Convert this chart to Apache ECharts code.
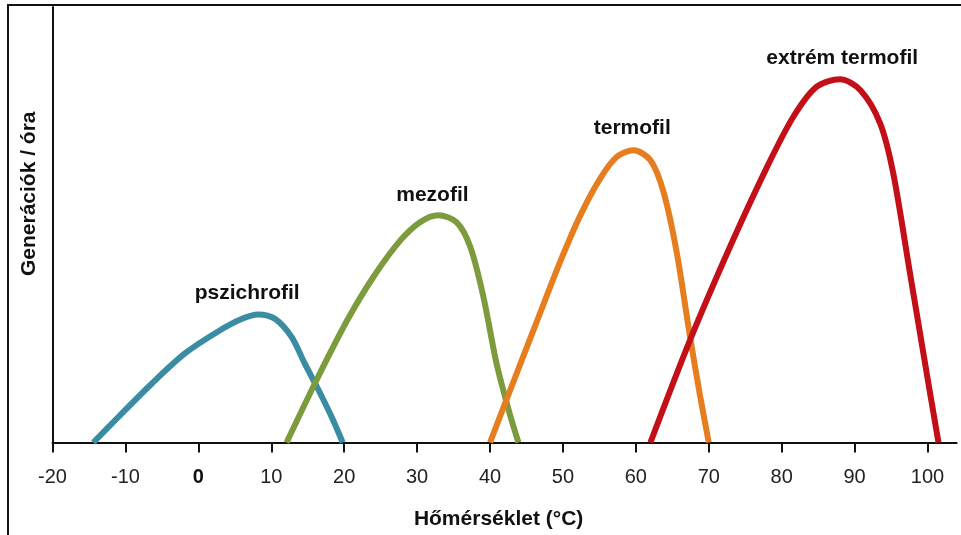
<!DOCTYPE html>
<html>
<head>
<meta charset="utf-8">
<script src="https://cdn.jsdelivr.net/npm/echarts@6/dist/echarts.min.js"></script>
<style>
  html, body { margin: 0; padding: 0; background: #fff; }
  #main { width: 961px; height: 535px; }
</style>
</head>
<body>
<div id="main"></div>
<script>
// tick positions on the temperature axis
var tickValues = [-20, -10, 0, 10, 20, 30, 40, 50, 60, 70, 80, 90, 100];

var names = ['pszichrofil', 'mezofil', 'termofil', 'extrém termofil'];
var colors = ['#3a8ca3', '#7b9b3c', '#e67e1f', '#c20f18'];

// temperature (°C) / generations per hour (arbitrary units)
var psychroX = [-14.4, -11.0, -6.4, -1.8, 2.7, 6.0, 8.2, 10.5, 12.8, 14.6, 16.5, 18.3, 19.8];
var psychroY = [0, 5.8, 13.5, 20.5, 25.5, 28.4, 29.4, 28.4, 24.2, 18.1, 12.0, 5.8, 0];

var mesoX = [12.1, 16.2, 20.4, 24.0, 27.7, 30.4, 32.9, 35.4, 37.3, 39.1, 40.9, 42.7, 43.9];
var mesoY = [0, 14.3, 28.0, 38.0, 46.4, 50.6, 52.2, 50.6, 44.9, 33.4, 18.1, 6.6, 0];

var thermoX = [40.0, 43.2, 46.4, 49.6, 52.4, 55.1, 57.4, 59.7, 62.0, 63.8, 65.6, 67.4, 68.8, 70.0];
var thermoY = [0, 13.9, 27.7, 41.4, 52.2, 60.6, 65.6, 67.1, 64.8, 57.5, 43.7, 24.6, 10.8, 0];

var hyperX = [62.0, 67.4, 72.9, 78.0, 81.6, 84.8, 88.0, 90.8, 93.5, 95.3, 97.6, 99.9, 101.5];
var hyperY = [0, 23.4, 44.9, 63.3, 74.8, 81.7, 83.4, 80.9, 73.3, 61.8, 38.8, 15.8, 0];

// where each curve's name sits
var labelX = [6.7, 32.1, 59.5, 88.3];
var labelY = [34.3, 56.8, 72.2, 88.3];

var curvesX = [psychroX, mesoX, thermoX, hyperX];
var curvesY = [psychroY, mesoY, thermoY, hyperY];

var font = 'Arial, "Liberation Sans", sans-serif';

var chart = echarts.init(document.getElementById('main'));

var series = [];
for (let i = 0; i < names.length; i++) {
  let pts = [];
  for (let j = 0; j < curvesX[i].length; j++) {
    pts.push([curvesX[i][j], curvesY[i][j]]);
  }
  series.push({
    name: names[i],
    type: 'line',
    smooth: 0.3,
    showSymbol: false,
    data: pts,
    lineStyle: { color: colors[i], width: 6 },
    itemStyle: { color: colors[i] },
    markPoint: {
      symbol: 'circle',
      symbolSize: 1,
      itemStyle: { color: 'rgba(0,0,0,0)' },
      label: {
        show: true,
        position: 'inside',
        formatter: names[i],
        color: '#111',
        fontFamily: font,
        fontWeight: 'bold',
        fontSize: 21
      },
      data: [{ coord: [labelX[i], labelY[i]] }]
    }
  });
}

var option = {
  backgroundColor: '#fff',
  animation: false,
  grid: {
    left: 52.5,
    right: 4.3,
    top: 7,
    bottom: 92.5
  },
  graphic: [{
    type: 'polyline',
    shape: { points: [[8, 535], [8, 5], [961, 5]] },
    style: { stroke: '#111', lineWidth: 2, fill: null }
  }],
  xAxis: {
    type: 'value',
    min: -20,
    max: 104,
    name: 'Hőmérséklet (°C)',
    nameLocation: 'middle',
    nameGap: 66,
    nameTextStyle: {
      color: '#111',
      fontFamily: font,
      fontWeight: 'bold',
      fontSize: 21,
      padding: [0, 12, 0, 0]
    },
    axisLine: { lineStyle: { color: '#111', width: 2 } },
    axisTick: {
      customValues: tickValues,
      length: 10,
      lineStyle: { color: '#111', width: 2 }
    },
    axisLabel: {
      customValues: tickValues,
      margin: 25,
      color: '#222',
      fontFamily: font,
      fontSize: 20,
      formatter: function (v) {
        return v === 0 ? '{b|0}' : String(v);
      },
      rich: {
        b: { fontWeight: 'bold', fontFamily: font, fontSize: 20, color: '#111' }
      }
    },
    splitLine: { show: false }
  },
  yAxis: {
    type: 'value',
    min: 0,
    max: 100,
    name: 'Generációk / óra',
    nameLocation: 'middle',
    nameGap: 13,
    nameTextStyle: {
      color: '#111',
      fontFamily: font,
      fontWeight: 'bold',
      fontSize: 21,
      padding: [0, 0, 0, 62]
    },
    axisLine: { show: true, onZero: false, lineStyle: { color: '#111', width: 2 } },
    axisTick: { show: false },
    axisLabel: { show: false },
    splitLine: { show: false }
  },
  series: series
};

chart.setOption(option);
</script>
</body>
</html>
